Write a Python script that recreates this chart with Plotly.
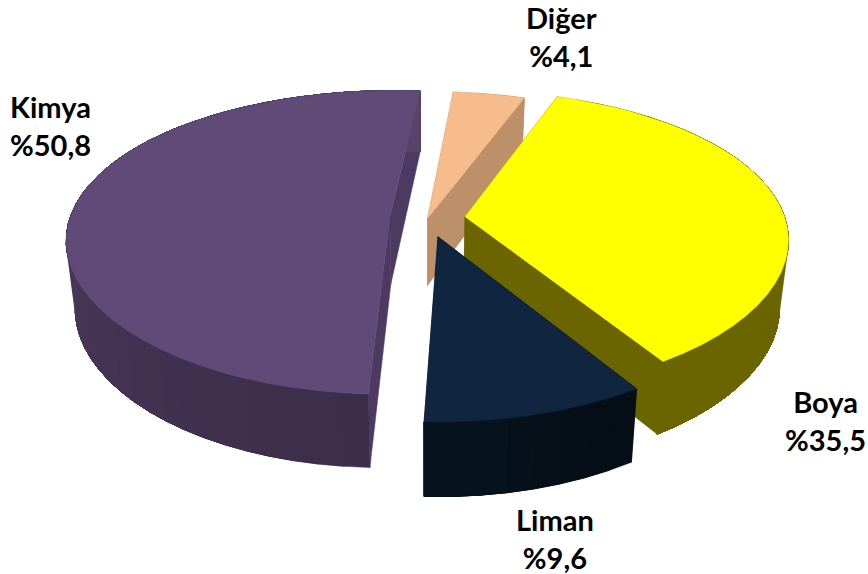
import numpy as np
import plotly.graph_objects as go

# ---- data ----
categories = ["Boya", "Liman", "Kimya", "Diğer"]
shares = [35.5, 9.6, 50.8, 4.1]
explode = [0.118, 0.125, 0.118, 0.0]
top_colors = ["#ffff00", "#0f2540", "#5f4a78", "#f6bc8c"]
face_colors = ["#6b6500", "#07121d", "#4d3a63", "#bd9069"]
side_from = ["#6b6500", "#050d16", "#3c2d4a", "#bd9069"]
side_to = ["#6b6500", "#07141e", "#584369", "#bd9069"]
first_angle = 20.0
draw_order = [3, 0, 2, 1]

# ---- view ----
W, H = 868, 574
cx, cy, a, b, k, kx, depth = 427.5, 218.5, 320.0, 148.0, 0.165, 0.14, 67.0


def project(u, v, d=0.0):
    u, v = np.asarray(u, float), np.asarray(v, float)
    return (cx + a * u / (1 - kx * v) * (1 - 0.025 * d),
            cy + b * v / (1 - k * v) + d * depth * (1 + 0.1 * v))


def rgb(h):
    return np.array([int(h[i:i + 2], 16) for i in (1, 3, 5)], float)


def mix(c0, c1, t):
    c = rgb(c0) * (1 - t) + rgb(c1) * t
    return "rgb(%d,%d,%d)" % tuple(np.round(c))


fig = go.Figure()


def poly(xs, ys, color, name):
    fig.add_trace(go.Scatter(
        x=np.r_[xs, xs[0]], y=np.r_[ys, ys[0]], mode="lines", fill="toself",
        fillcolor=color, line=dict(color=color, width=0.5),
        hoverinfo="skip", showlegend=False, name=name))


cum = np.cumsum([0] + shares) / sum(shares) * 360 + first_angle
for i in draw_order:
    t0, t1 = cum[i], cum[i + 1]
    mid = np.radians((t0 + t1) / 2)
    ou, ov = explode[i] * np.sin(mid), -explode[i] * np.cos(mid)
    th = np.radians(np.linspace(t0, t1, max(4, int((t1 - t0) / 4) + 1)))
    u, v = ou + np.sin(th), ov - np.cos(th)
    name = categories[i]
    # radial cut faces
    for j in (0, -1):
        xt, yt = project([ou, u[j]], [ov, v[j]], 0)
        xb, yb = project([ou, u[j]], [ov, v[j]], 1)
        poly(np.r_[xt, xb[::-1]], np.r_[yt, yb[::-1]], face_colors[i], name)
    # outer wall: painted front to end so that bands leave no seams
    xt, yt = project(u, v, 0)
    xb, yb = project(u, v, 1)
    for j in range(len(th) - 1):
        c = mix(side_from[i], side_to[i], j / max(1, len(th) - 2))
        poly(np.r_[xt[j:], xb[j:][::-1]], np.r_[yt[j:], yb[j:][::-1]], c, name)
    # top cap
    xa, ya = project([ou], [ov], 0)
    poly(np.r_[xa, xt], np.r_[ya, yt], top_colors[i], name)

# ---- labels ----
label_pos = [(825, 420), (555, 538), (50, 125), (561, 36)]
for name, val, (lx, ly) in zip(categories, shares, label_pos):
    fig.add_annotation(x=lx, y=ly, xref="x", yref="y", showarrow=False,
                       text=f"<b>{name}<br>%{val:.1f}</b>".replace(".", ","),
                       align="center",
                       font=dict(family="Lato, Carlito, sans-serif", size=29, color="#000000"))

fig.update_layout(
    width=W, height=H, margin=dict(l=0, r=0, t=0, b=0),
    paper_bgcolor="white", plot_bgcolor="white", showlegend=False,
    xaxis=dict(range=[0, W], visible=False, fixedrange=True),
    yaxis=dict(range=[H, 0], visible=False, fixedrange=True),
)
fig.write_html("out.html", config={"displayModeBar": False},
               post_script="document.body.style.margin='0';document.documentElement.style.overflow='hidden';")
